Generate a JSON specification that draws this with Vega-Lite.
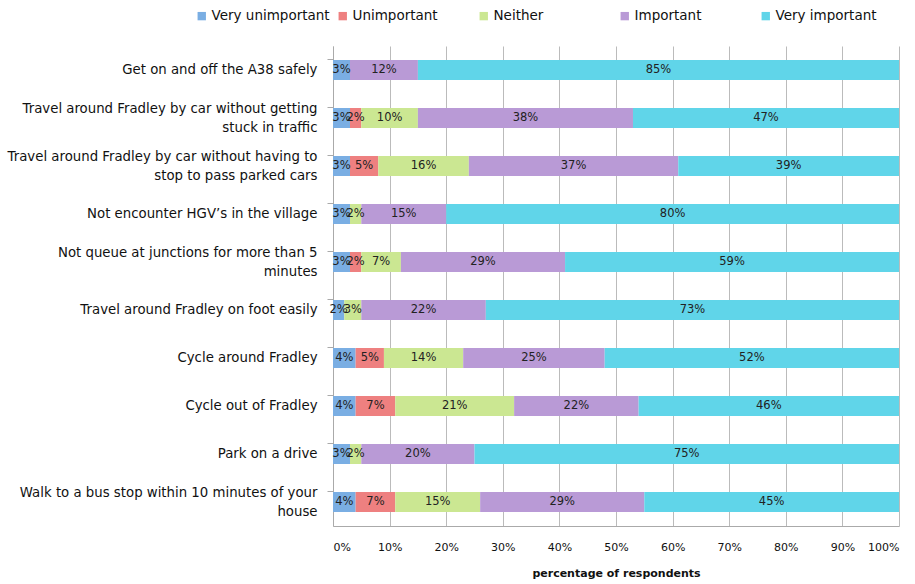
{
  "$schema": "https://vega.github.io/schema/vega-lite/v6.json",
  "width": 566,
  "height": 480,
  "autosize": {"type": "none"},
  "padding": {"left": 333, "top": 46, "right": 16, "bottom": 58},
  "background": "white",
  "config": {
    "font": "DejaVu Sans",
    "view": {"stroke": null}
  },
  "data": {
    "values": [
      {"item": "Get on and off the A38 safely", "rating": "Very unimportant", "ord": 1, "value": 0.03},
      {"item": "Get on and off the A38 safely", "rating": "Important", "ord": 4, "value": 0.12},
      {"item": "Get on and off the A38 safely", "rating": "Very important", "ord": 5, "value": 0.85},
      {"item": "Travel around Fradley by car without getting|stuck in traffic", "rating": "Very unimportant", "ord": 1, "value": 0.03},
      {"item": "Travel around Fradley by car without getting|stuck in traffic", "rating": "Unimportant", "ord": 2, "value": 0.02},
      {"item": "Travel around Fradley by car without getting|stuck in traffic", "rating": "Neither", "ord": 3, "value": 0.10},
      {"item": "Travel around Fradley by car without getting|stuck in traffic", "rating": "Important", "ord": 4, "value": 0.38},
      {"item": "Travel around Fradley by car without getting|stuck in traffic", "rating": "Very important", "ord": 5, "value": 0.47},
      {"item": "Travel around Fradley by car without having to|stop to pass parked cars", "rating": "Very unimportant", "ord": 1, "value": 0.03},
      {"item": "Travel around Fradley by car without having to|stop to pass parked cars", "rating": "Unimportant", "ord": 2, "value": 0.05},
      {"item": "Travel around Fradley by car without having to|stop to pass parked cars", "rating": "Neither", "ord": 3, "value": 0.16},
      {"item": "Travel around Fradley by car without having to|stop to pass parked cars", "rating": "Important", "ord": 4, "value": 0.37},
      {"item": "Travel around Fradley by car without having to|stop to pass parked cars", "rating": "Very important", "ord": 5, "value": 0.39},
      {"item": "Not encounter HGV’s in the village", "rating": "Very unimportant", "ord": 1, "value": 0.03},
      {"item": "Not encounter HGV’s in the village", "rating": "Neither", "ord": 3, "value": 0.02},
      {"item": "Not encounter HGV’s in the village", "rating": "Important", "ord": 4, "value": 0.15},
      {"item": "Not encounter HGV’s in the village", "rating": "Very important", "ord": 5, "value": 0.80},
      {"item": "Not queue at junctions for more than 5|minutes", "rating": "Very unimportant", "ord": 1, "value": 0.03},
      {"item": "Not queue at junctions for more than 5|minutes", "rating": "Unimportant", "ord": 2, "value": 0.02},
      {"item": "Not queue at junctions for more than 5|minutes", "rating": "Neither", "ord": 3, "value": 0.07},
      {"item": "Not queue at junctions for more than 5|minutes", "rating": "Important", "ord": 4, "value": 0.29},
      {"item": "Not queue at junctions for more than 5|minutes", "rating": "Very important", "ord": 5, "value": 0.59},
      {"item": "Travel around Fradley on foot easily", "rating": "Very unimportant", "ord": 1, "value": 0.02},
      {"item": "Travel around Fradley on foot easily", "rating": "Neither", "ord": 3, "value": 0.03},
      {"item": "Travel around Fradley on foot easily", "rating": "Important", "ord": 4, "value": 0.22},
      {"item": "Travel around Fradley on foot easily", "rating": "Very important", "ord": 5, "value": 0.73},
      {"item": "Cycle around Fradley", "rating": "Very unimportant", "ord": 1, "value": 0.04},
      {"item": "Cycle around Fradley", "rating": "Unimportant", "ord": 2, "value": 0.05},
      {"item": "Cycle around Fradley", "rating": "Neither", "ord": 3, "value": 0.14},
      {"item": "Cycle around Fradley", "rating": "Important", "ord": 4, "value": 0.25},
      {"item": "Cycle around Fradley", "rating": "Very important", "ord": 5, "value": 0.52},
      {"item": "Cycle out of Fradley", "rating": "Very unimportant", "ord": 1, "value": 0.04},
      {"item": "Cycle out of Fradley", "rating": "Unimportant", "ord": 2, "value": 0.07},
      {"item": "Cycle out of Fradley", "rating": "Neither", "ord": 3, "value": 0.21},
      {"item": "Cycle out of Fradley", "rating": "Important", "ord": 4, "value": 0.22},
      {"item": "Cycle out of Fradley", "rating": "Very important", "ord": 5, "value": 0.46},
      {"item": "Park on a drive", "rating": "Very unimportant", "ord": 1, "value": 0.03},
      {"item": "Park on a drive", "rating": "Neither", "ord": 3, "value": 0.02},
      {"item": "Park on a drive", "rating": "Important", "ord": 4, "value": 0.20},
      {"item": "Park on a drive", "rating": "Very important", "ord": 5, "value": 0.75},
      {"item": "Walk to a bus stop within 10 minutes of your|house", "rating": "Very unimportant", "ord": 1, "value": 0.04},
      {"item": "Walk to a bus stop within 10 minutes of your|house", "rating": "Unimportant", "ord": 2, "value": 0.07},
      {"item": "Walk to a bus stop within 10 minutes of your|house", "rating": "Neither", "ord": 3, "value": 0.15},
      {"item": "Walk to a bus stop within 10 minutes of your|house", "rating": "Important", "ord": 4, "value": 0.29},
      {"item": "Walk to a bus stop within 10 minutes of your|house", "rating": "Very important", "ord": 5, "value": 0.45}
    ]
  },
  "encoding": {
    "y": {
      "field": "item",
      "type": "nominal",
      "sort": null,
      "title": null,
      "scale": {"paddingInner": 0.58, "paddingOuter": 0.29},
      "axis": {
        "labelExpr": "split(datum.label, '|')",
        "labelFontSize": 13.3,
        "labelColor": "#111",
        "labelLimit": 400,
        "labelLineHeight": 19,
        "labelPadding": 10,
        "labelOffset": {"expr": "test(/\\|/, datum.value) ? -9 : 0"},
        "domainColor": "#aaa",
        "tickColor": "#aaa",
        "tickSize": 6,
        "bandPosition": 0
      }
    },
    "x": {
      "field": "value",
      "type": "quantitative",
      "stack": "zero",
      "scale": {"domain": [0, 1], "nice": false},
      "axis": {
        "format": ".0%",
        "values": [0, 0.1, 0.2, 0.3, 0.4, 0.5, 0.6, 0.7, 0.8, 0.9, 1],
        "labelOverlap": false,
        "labelFontSize": 11,
        "labelColor": "#111",
        "ticks": false,
        "domainColor": "#aaa",
        "gridColor": "#bbb",
        "labelPadding": 15,
        "title": "percentage of respondents",
        "titleFontSize": 11,
        "titleFontWeight": "bold",
        "titlePadding": 15,
        "titleColor": "#111"
      }
    },
    "order": {"field": "ord", "type": "quantitative"}
  },
  "layer": [
    {
      "mark": {"type": "bar", "size": 20},
      "encoding": {
        "color": {
          "field": "rating",
          "type": "nominal",
          "sort": ["Very unimportant", "Unimportant", "Neither", "Important", "Very important"],
          "scale": {
            "domain": ["Very unimportant", "Unimportant", "Neither", "Important", "Very important"],
            "range": ["#7aaee3", "#ee8080", "#cbe792", "#b99ad6", "#60d5e9"]
          },
          "legend": {
            "title": null,
            "orient": "none",
            "direction": "horizontal",
            "legendX": -138,
            "legendY": -37,
            "symbolType": "square",
            "symbolSize": 70,
            "symbolStrokeWidth": 0,
            "labelFontSize": 13.5,
            "labelColor": "#111",
            "gridAlign": "all",
            "columnPadding": 6,
            "labelOffset": 3
          }
        }
      }
    },
    {
      "mark": {"type": "text", "fontSize": 11.5, "color": "#222", "baseline": "middle"},
      "encoding": {
        "x": {"field": "value", "type": "quantitative", "stack": "zero", "bandPosition": 0.5},
        "text": {"field": "value", "type": "quantitative", "format": ".0%"}
      }
    }
  ]
}
